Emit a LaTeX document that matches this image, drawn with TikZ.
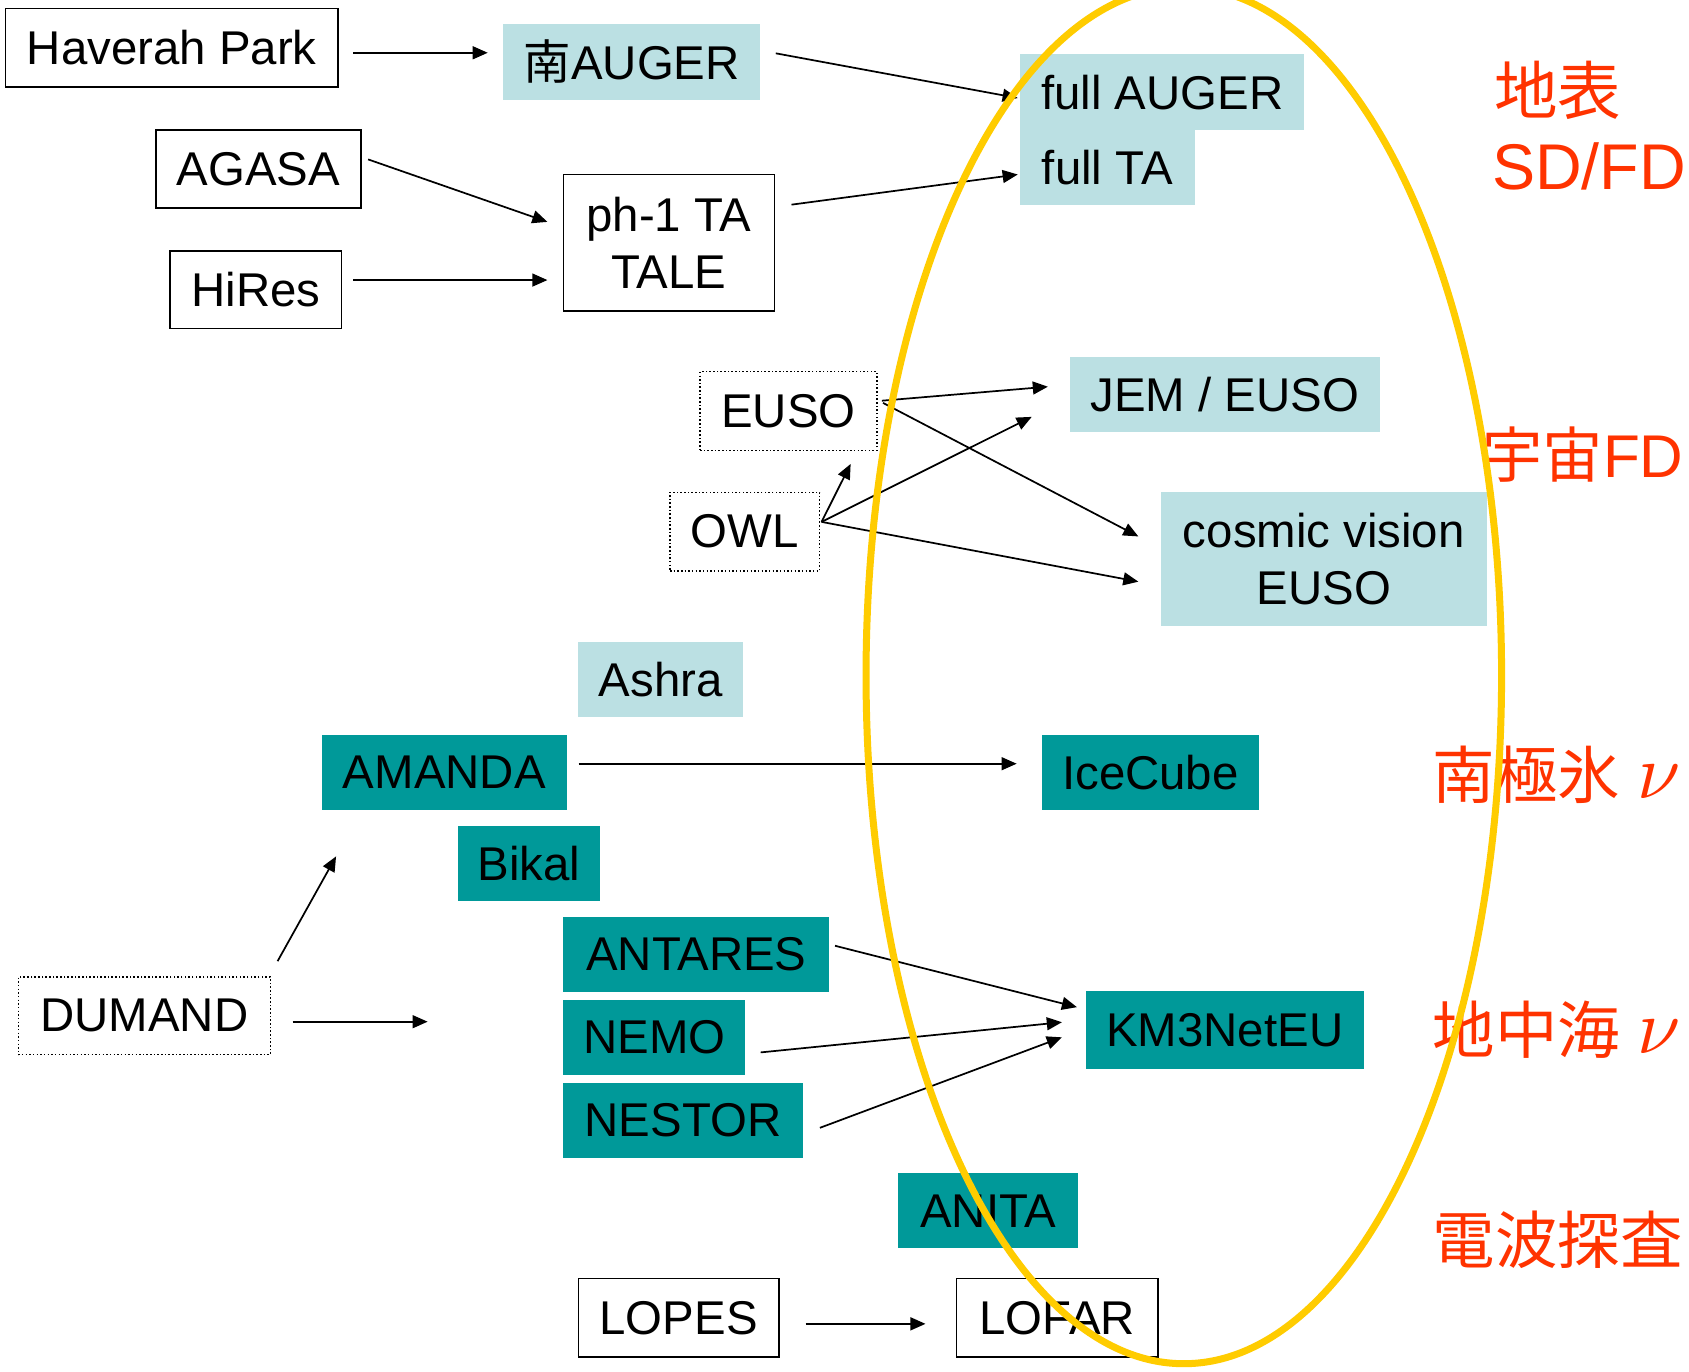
\documentclass[tikz,border=0pt]{standalone}
\usepackage{fontspec}
\setmainfont{Liberation Sans}
\newfontfamily\cjk{Noto Sans CJK JP}
\newfontfamily\lmm{latinmodern-math.otf}
\usetikzlibrary{arrows.meta}
\definecolor{lightb}{HTML}{BBE0E3}
\definecolor{tealc}{HTML}{009999}
\definecolor{redc}{HTML}{FF3300}
\definecolor{ylw}{HTML}{FFCC00}
\begin{document}
\begin{tikzpicture}[x=1pt,y=-1pt,
  every node/.style={inner sep=0pt, font=\fontsize{44pt}{53pt}\selectfont, align=center},
  plain/.style={draw, line width=1.6pt},
  dotbox/.style={draw, dotted, line width=1.4pt},
  pale/.style={fill=lightb},
  deep/.style={fill=tealc},
  arr/.style={line width=1.6pt, -{Triangle[length=14pt,width=12pt]}},
  lbl/.style={text=redc, anchor=base west, align=left},
]
\useasboundingbox[fill=white] (0,0) rectangle (1568,1273);

% boxes
\node[plain, minimum width=309pt, minimum height=73pt] (hp) at (159.5,44.5) {Haverah Park};
\node[pale, minimum width=239pt, minimum height=71pt] (sauger) at (586.5,57.5) {{\cjk 南}AUGER};
\node[plain, minimum width=190pt, minimum height=72pt] (agasa) at (240,157) {AGASA};
\node[plain, minimum width=159pt, minimum height=72pt] (hires) at (237.5,269) {HiRes};
\node[plain, minimum width=196pt, minimum height=127pt] (ta) at (621,225.5) {ph-1 TA\\TALE};
\node[pale, minimum width=264pt, minimum height=71pt] (fauger) at (1079,85.5) {full AUGER};
\node[pale, minimum width=162pt, minimum height=69pt] (fta) at (1028,155.5) {full TA};
\node[dotbox, minimum width=164pt, minimum height=73pt] (euso) at (732,381.5) {EUSO};
\node[dotbox, minimum width=139pt, minimum height=73pt] (owl) at (691.5,493.5) {OWL};
\node[pale, minimum width=288pt, minimum height=70pt] (jem) at (1137,366) {JEM / EUSO};
\node[pale, minimum width=302pt, minimum height=124pt] (cosmic) at (1229,519) {cosmic vision\\EUSO};
\node[pale, minimum width=153pt, minimum height=70pt] (ashra) at (613.5,631) {Ashra};
\node[deep, minimum width=227pt, minimum height=70pt] (amanda) at (412.5,717) {AMANDA};
\node[deep, minimum width=202pt, minimum height=70pt] (icecube) at (1068,717) {IceCube};
\node[deep, minimum width=132pt, minimum height=69pt] (bikal) at (491,801.5) {Bikal};
\node[deep, minimum width=247pt, minimum height=70pt] (antares) at (646.5,886) {ANTARES};
\node[deep, minimum width=169pt, minimum height=70pt] (nemo) at (607.5,963) {NEMO};
\node[deep, minimum width=222pt, minimum height=70pt] (nestor) at (634,1040) {NESTOR};
\node[deep, minimum width=258pt, minimum height=72pt] (km3) at (1137,956) {KM3NetEU};
\node[dotbox, minimum width=234pt, minimum height=72pt] (dumand) at (134,943) {DUMAND};
\node[deep, minimum width=167pt, minimum height=70pt] (anita) at (917.5,1124) {ANITA};
\node[plain, minimum width=186pt, minimum height=73pt] (lopes) at (630,1223.5) {LOPES};
\node[plain, minimum width=187pt, minimum height=73pt] (lofar) at (981.5,1223.5) {LOFAR};

% free ends
\coordinate (dup) at (312,795);
\coordinate (drt) at (397,948.5);

% red labels
\node[lbl, font=\cjk\fontsize{59pt}{60pt}\selectfont] (l1a) at (1387,106) {地表};
\node[lbl, font=\fontsize{60pt}{60pt}\selectfont] (l1b) at (1385,176) {SD/FD};
\node[lbl, font=\fontsize{56pt}{58pt}\selectfont] (l2) at (1376,443) {{\cjk 宇宙}FD};
\node[lbl, font=\cjk\fontsize{58pt}{60pt}\selectfont] (l3) at (1330,741) {南極氷\hspace{16pt}{\lmm\fontsize{72pt}{72pt}\selectfont 𝜈}};
\node[lbl, font=\cjk\fontsize{58pt}{60pt}\selectfont] (l4) at (1330,978) {地中海\hspace{16pt}{\lmm\fontsize{72pt}{72pt}\selectfont 𝜈}};
\node[lbl, font=\cjk\fontsize{58pt}{60pt}\selectfont] (l5) at (1330,1173) {電波探査};

% arrows
\draw[arr] ([shift={(13,4.5)}]hp.east) -- ([shift={(-14,-8.5)}]sauger.west);
\draw[arr] ([shift={(14,-8)}]sauger.east) -- ([shift={(-2,5.5)}]fauger.west);
\draw[arr] ([shift={(6,-9)}]agasa.east) -- ([shift={(-14,-19.5)}]ta.west);
\draw[arr] ([shift={(10,-9)}]hires.east) -- ([shift={(-14,34.5)}]ta.west);
\draw[arr] ([shift={(15,-35.5)}]ta.east) -- ([shift={(-2,6.5)}]fta.west);
\draw[arr] ([shift={(4,-9.5)}]euso.east) -- ([shift={(-20,-7)}]jem.west);
\draw[arr] ([shift={(5,-7.5)}]euso.east) -- ([shift={(-21,-21)}]cosmic.west);
\draw[arr] ([shift={(1,-9)}]owl.east) -- ([shift={(-25,12)}]euso.south east);
\draw[arr] ([shift={(1,-9)}]owl.east) -- ([shift={(-35,21)}]jem.west);
\draw[arr] ([shift={(1,-9)}]owl.east) -- ([shift={(-21,21)}]cosmic.west);
\draw[arr] ([shift={(11,-8)}]amanda.east) -- ([shift={(-23,-8)}]icecube.west);
\draw[arr] ([shift={(6,-14)}]dumand.north east) -- (dup);
\draw[arr] ([shift={(20,5.5)}]dumand.east) -- (drt);
\draw[arr] ([shift={(5,-8)}]antares.east) -- ([shift={(-8,-21)}]km3.west);
\draw[arr] ([shift={(14,14)}]nemo.east) -- ([shift={(-22,-7)}]km3.west);
\draw[arr] ([shift={(16,7)}]nestor.east) -- ([shift={(-22,7)}]km3.west);
\draw[arr] ([shift={(24,5.5)}]lopes.east) -- ([shift={(-28,5.5)}]lofar.west);

% ellipse
\draw[ylw, line width=6.5pt] (1099,627) ellipse [x radius=295pt, y radius=639pt];
\end{tikzpicture}
\end{document}
